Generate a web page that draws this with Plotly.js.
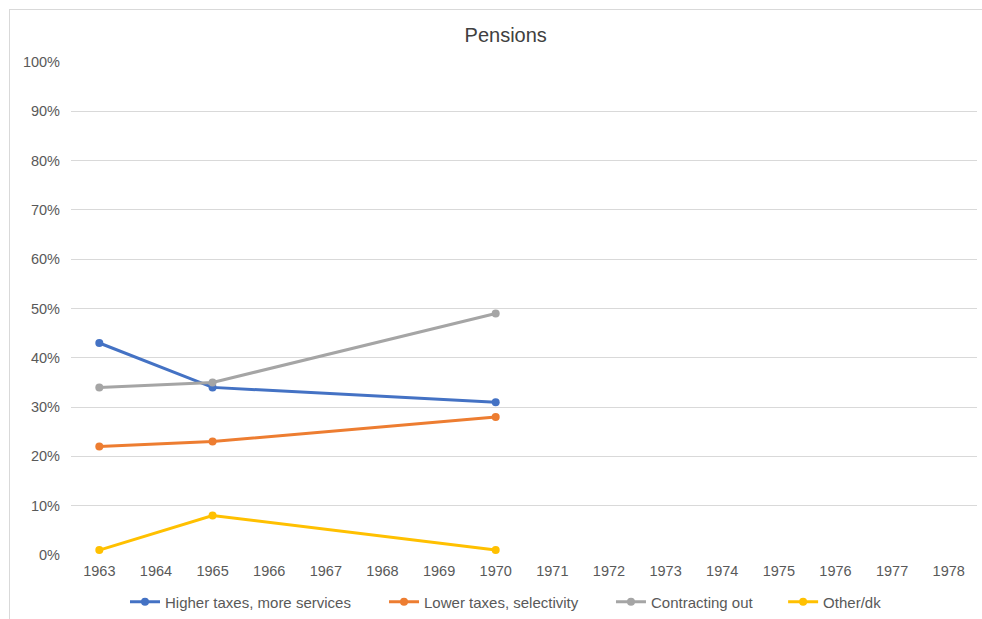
<!DOCTYPE html>
<html><head><meta charset="utf-8">
<script src="https://cdn.plot.ly/plotly-3.0.1.min.js"></script>
<style>
html,body{margin:0;padding:0;background:#fff;}
#frame{position:absolute;left:9px;top:9px;width:1000px;height:640px;border:1px solid #d9d9d9;box-sizing:border-box;}
#chart{position:absolute;left:0;top:0;width:982px;height:619px;}
</style></head>
<body>
<div id="frame"></div>
<div id="chart"></div>
<script>
const years = ["1963","1964","1965","1966","1967","1968","1969","1970","1971","1972","1973","1974","1975","1976","1977","1978"];
const dataYears = ["1963","1965","1970"];
const higherTaxes = [0.43, 0.34, 0.31];
const lowerTaxes = [0.22, 0.23, 0.28];
const contracting = [0.34, 0.35, 0.49];
const otherDk = [0.01, 0.08, 0.01];
const seriesNames = ["Higher taxes, more services","Lower taxes, selectivity","Contracting out","Other/dk"];
const seriesColors = ["#4472c4","#ed7d31","#a5a5a5","#ffc000"];
const seriesValues = [higherTaxes, lowerTaxes, contracting, otherDk];
const legendIds = ["legend","legend2","legend3","legend4"];
const legendX = [0.0596, 0.3455, 0.596, 0.786];

const traces = seriesValues.map((v,i)=>({
  x: dataYears, y: v, name: seriesNames[i], type:'scatter', mode:'lines+markers',
  line:{color:seriesColors[i], width:3}, marker:{color:seriesColors[i], size:8},
  cliponaxis:false, legend: legendIds[i]
}));

const layout = {
  width:982, height:619,
  paper_bgcolor:'rgba(0,0,0,0)', plot_bgcolor:'rgba(0,0,0,0)',
  margin:{l:71, r:5, t:62, b:64, autoexpand:false},
  font:{family:'"Liberation Sans", Arial, sans-serif', color:'#595959', size:14.5},
  title:{text:'Pensions', x:0.515, xanchor:'center', y:0.943, yanchor:'middle', font:{size:20, color:'#404040'}},
  xaxis:{type:'category', categoryorder:'array', categoryarray:years, tickvals:years, range:[-0.5,15.5],
    showgrid:false, zeroline:false, showline:false, ticks:'', ticklabelstandoff:5, automargin:false, tickfont:{size:14.5, color:'#595959'}},
  yaxis:{range:[0,1], tickvals:[0,0.1,0.2,0.3,0.4,0.5,0.6,0.7,0.8,0.9,1], tickformat:'.0%',
    showgrid:true, gridcolor:'#d9d9d9', gridwidth:1, zeroline:false, showline:false, ticks:'', automargin:false,
    ticklabelstandoff:10, tickfont:{size:14.5, color:'#595959'}},
  showlegend:true
};
legendIds.forEach((id,i)=>{
  layout[id] = {orientation:'h', x:legendX[i], xanchor:'left', y:-0.0953, yanchor:'middle',
    font:{size:15, color:'#595959'}, bgcolor:'rgba(0,0,0,0)', borderwidth:0};
});
Plotly.newPlot('chart', traces, layout, {displayModeBar:false, staticPlot:true});
</script>
</body></html>
